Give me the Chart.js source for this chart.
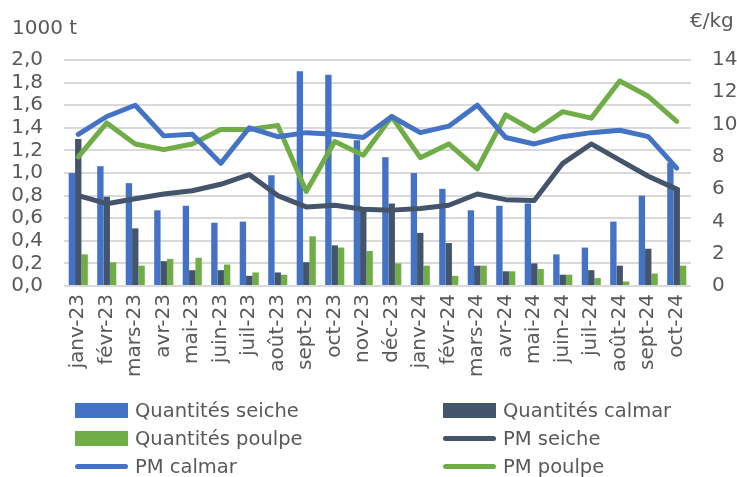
<!DOCTYPE html>
<html lang="fr">
<head>
<meta charset="utf-8">
<script src="https://cdn.jsdelivr.net/npm/chart.js@4.4.1/dist/chart.umd.min.js"></script>
<style>
  html, body { margin: 0; padding: 0; background: #fff; }
  #wrap { position: relative; width: 737px; height: 477px; font-family: 'DejaVu Sans', sans-serif; color: #595959; }
  #chart { position: absolute; left: 0; top: 0; }
  .unit { position: absolute; font-size: 20px; line-height: 1; }
  #legend { position: absolute; left: 75px; top: 399px; width: 662px; display: grid; grid-template-columns: 368px 294px; row-gap: 6px; }
  .item { display: flex; align-items: center; height: 22px; font-size: 19.5px; white-space: nowrap; }
  .sw { width: 53px; height: 15px; margin-right: 7px; flex: none; }
  .sw.line { height: 5px; border-radius: 3px; }
</style>
</head>
<body>
<div id="wrap">
  <canvas id="chart" width="737" height="477"></canvas>
  <div class="unit" style="left:12px;top:17px">1000 t</div>
  <div class="unit" style="left:690px;top:10px">€/kg</div>
  <div id="legend"></div>
</div>
<script>
  // données
  const months = ['janv-23', 'févr-23', 'mars-23', 'avr-23', 'mai-23', 'juin-23', 'juil-23', 'août-23', 'sept-23', 'oct-23', 'nov-23', 'déc-23',
    'janv-24', 'févr-24', 'mars-24', 'avr-24', 'mai-24', 'juin-24', 'juil-24', 'août-24', 'sept-24', 'oct-24'];

  // quantités (1000 t)
  const qSeiche = [1.00, 1.06, 0.91, 0.67, 0.71, 0.56, 0.57, 0.98, 1.90, 1.87, 1.29, 1.14, 1.00, 0.86, 0.67, 0.71, 0.73, 0.28, 0.34, 0.57, 0.80, 1.09];
  const qCalmar = [1.30, 0.79, 0.51, 0.22, 0.14, 0.14, 0.09, 0.12, 0.21, 0.36, 0.68, 0.73, 0.47, 0.38, 0.18, 0.13, 0.20, 0.10, 0.14, 0.18, 0.33, 0.87];
  const qPoulpe = [0.28, 0.21, 0.18, 0.24, 0.25, 0.19, 0.12, 0.10, 0.44, 0.34, 0.31, 0.20, 0.18, 0.09, 0.18, 0.13, 0.15, 0.10, 0.07, 0.04, 0.11, 0.18];

  // prix moyens (€/kg)
  const pmSeiche = [5.6, 5.1, 5.4, 5.7, 5.9, 6.3, 6.9, 5.6, 4.9, 5.0, 4.75, 4.7, 4.8, 5.0, 5.7, 5.35, 5.3, 7.6, 8.8, 7.8, 6.8, 6.0];
  const pmCalmar = [9.4, 10.5, 11.2, 9.3, 9.4, 7.6, 9.8, 9.25, 9.5, 9.4, 9.2, 10.5, 9.5, 9.9, 11.2, 9.2, 8.8, 9.25, 9.5, 9.65, 9.25, 7.3];
  const pmPoulpe = [8.0, 10.1, 8.8, 8.45, 8.8, 9.7, 9.7, 9.95, 5.85, 8.95, 8.1, 10.5, 7.95, 8.8, 7.25, 10.6, 9.6, 10.8, 10.4, 12.7, 11.75, 10.2];

  const leftTicks = ['0,0', '0,2', '0,4', '0,6', '0,8', '1,0', '1,2', '1,4', '1,6', '1,8', '2,0'];
  const rightTicks = ['0', '2', '4', '6', '8', '10', '12', '14'];

  const BLUE = '#4472c4';
  const SLATE = '#44546a';
  const GREEN = '#70ad47';
  const TXT = '#595959';
  const GRID = '#d9d9d9';

  Chart.defaults.font.family = "'DejaVu Sans', sans-serif";
  Chart.defaults.color = TXT;

  function bar(label, data, color) {
    return { type: 'bar', label, data, backgroundColor: color, yAxisID: 'y', order: 2, categoryPercentage: 0.67, barPercentage: 1.0 };
  }
  function line(label, data, color) {
    return { type: 'line', label, data, borderColor: color, backgroundColor: color, borderWidth: 5, pointRadius: 0, tension: 0,
      borderCapStyle: 'round', borderJoinStyle: 'round', yAxisID: 'y2', order: 1 };
  }

  const chart = new Chart(document.getElementById('chart'), {
    data: {
      labels: months,
      datasets: [
        bar('Quantités seiche', qSeiche, BLUE),
        bar('Quantités calmar', qCalmar, SLATE),
        bar('Quantités poulpe', qPoulpe, GREEN),
        line('PM seiche', pmSeiche, SLATE),
        line('PM calmar', pmCalmar, BLUE),
        line('PM poulpe', pmPoulpe, GREEN),
      ],
    },
    options: {
      responsive: false,
      animation: false,
      layout: { padding: { left: 0, right: 0, top: 60, bottom: 0 } },
      plugins: { legend: { display: false }, tooltip: { enabled: false } },
      scales: {
        x: {
          grid: { display: false, drawTicks: false },
          border: { display: false },
          ticks: { font: { size: 20 }, color: TXT, maxRotation: 90, minRotation: 90, padding: 8, autoSkip: false },
          afterFit: (s) => { s.height = 191; },
        },
        y: {
          position: 'left', min: 0, max: 2,
          border: { display: false },
          grid: { color: GRID, lineWidth: 2, drawTicks: false },
          ticks: { stepSize: 0.2, padding: 21, autoSkip: false, font: { size: 20 }, color: TXT, callback: (v, i) => leftTicks[i] },
          afterFit: (s) => { s.width = 64; },
        },
        y2: {
          position: 'right', min: 0, max: 14,
          border: { display: false },
          grid: { display: false, drawTicks: false },
          ticks: { stepSize: 2, padding: 21, autoSkip: false, font: { size: 20 }, color: TXT, callback: (v, i) => rightTicks[i] },
          afterFit: (s) => { s.width = 46; },
        },
      },
    },
  });

  // légende HTML en deux colonnes
  const legend = document.getElementById('legend');
  chart.data.datasets.forEach((ds) => {
    const item = document.createElement('div');
    item.className = 'item';
    const sw = document.createElement('span');
    sw.className = ds.type === 'line' ? 'sw line' : 'sw';
    sw.style.background = ds.type === 'line' ? ds.borderColor : ds.backgroundColor;
    const txt = document.createElement('span');
    txt.textContent = ds.label;
    item.appendChild(sw);
    item.appendChild(txt);
    legend.appendChild(item);
  });
</script>
</body>
</html>
